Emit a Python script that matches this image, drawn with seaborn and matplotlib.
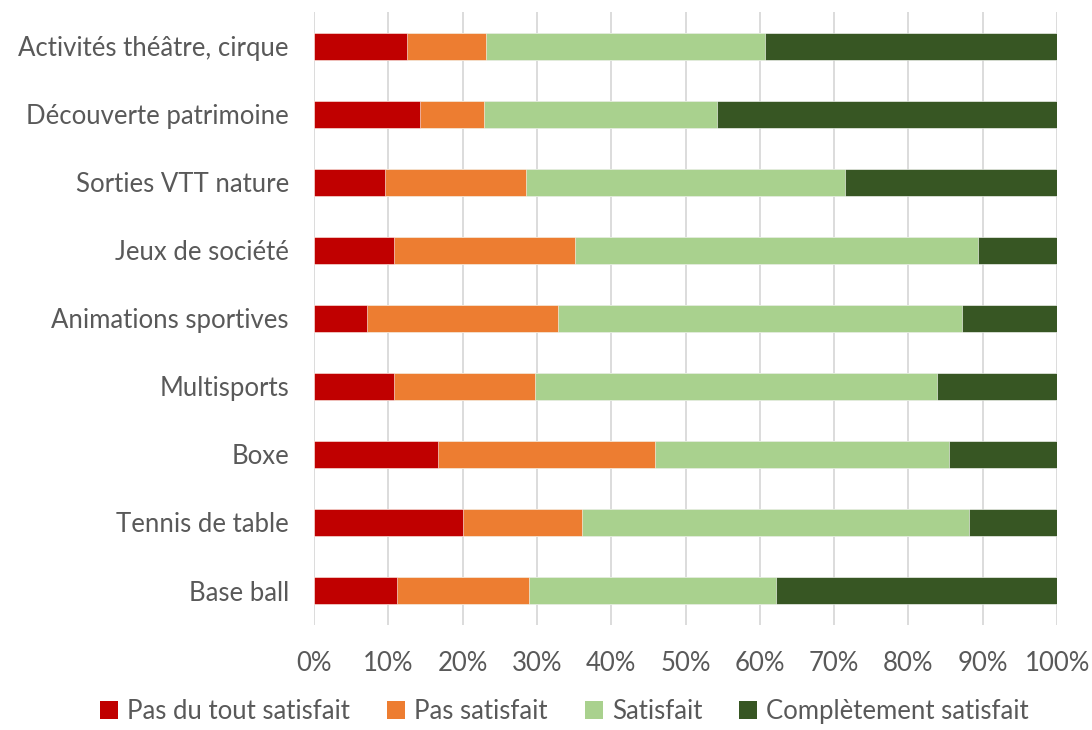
import numpy as np
import pandas as pd
from matplotlib import pyplot as plt
from matplotlib.patches import Patch
from matplotlib.ticker import PercentFormatter
import seaborn as sns

# Data (percent of answers per activity)
activites = ['Activités théâtre, cirque', 'Découverte patrimoine', 'Sorties VTT nature',
             'Jeux de société', 'Animations sportives', 'Multisports', 'Boxe',
             'Tennis de table', 'Base ball']
pas_du_tout = [12.5, 14.3, 9.6, 10.8, 7.1, 10.8, 16.7, 20.0, 11.2]
pas_satisfait = [10.7, 8.6, 18.9, 24.3, 25.7, 18.9, 29.2, 16.1, 17.8]
satisfait = [37.5, 31.4, 43.0, 54.2, 54.4, 54.1, 39.6, 52.0, 33.2]
completement = [39.3, 45.7, 28.5, 10.7, 12.8, 16.2, 14.5, 11.9, 37.8]

niveaux = ['Pas du tout satisfait', 'Pas satisfait', 'Satisfait', 'Complètement satisfait']
couleurs = ['#C00000', '#ED7D31', '#A9D18E', '#375623']

df = pd.DataFrame({
    'activite': activites,
    niveaux[0]: pas_du_tout,
    niveaux[1]: pas_satisfait,
    niveaux[2]: satisfait,
    niveaux[3]: completement,
})
# normalise each row to 100% and build cumulative ends
vals = df[niveaux].div(df[niveaux].sum(axis=1), axis=0) * 100
cumul = vals.cumsum(axis=1)

sns.set_style('white')
plt.rcParams['font.family'] = ['Lato', 'DejaVu Sans']
gris = '#595959'
taille = 18.5

fig = plt.figure(figsize=(10.92, 7.3), dpi=100)
ax = fig.add_axes([0.2875, 0.1445, 0.6805, 0.8385])

# draw from the longest cumulative segment to the shortest so each one stays visible
for niv, col in reversed(list(zip(niveaux, couleurs))):
    sns.barplot(x=cumul[niv], y=df['activite'], color=col, saturation=1, width=0.4,
                orient='h', ax=ax, edgecolor='white', linewidth=0.4, zorder=2)

ax.set_xlim(0, 100)
ax.set_ylim(8.5, -0.5)
ax.set_xticks(np.arange(0, 101, 10))
ax.xaxis.set_major_formatter(PercentFormatter(decimals=0))
ax.grid(axis='x', color='#d9d9d9', linewidth=1.3, zorder=0)
ax.set_axisbelow(True)
ax.set_xlabel('')
ax.set_ylabel('')
sns.despine(ax=ax, left=True, bottom=True)
ax.tick_params(axis='x', length=0, pad=19, labelsize=taille, labelcolor=gris)
ax.tick_params(axis='y', length=0, pad=18, labelsize=taille, labelcolor=gris)

handles = [Patch(facecolor=c, edgecolor='none', label=n) for n, c in zip(niveaux, couleurs)]
fig.legend(handles=handles, loc='lower center', bbox_to_anchor=(0.517, -0.024), ncol=4,
           frameon=False, fontsize=taille, labelcolor=gris, handlelength=0.7,
           handleheight=0.7, handletextpad=0.35, columnspacing=1.45)

fig.savefig('out.png', dpi=100)
